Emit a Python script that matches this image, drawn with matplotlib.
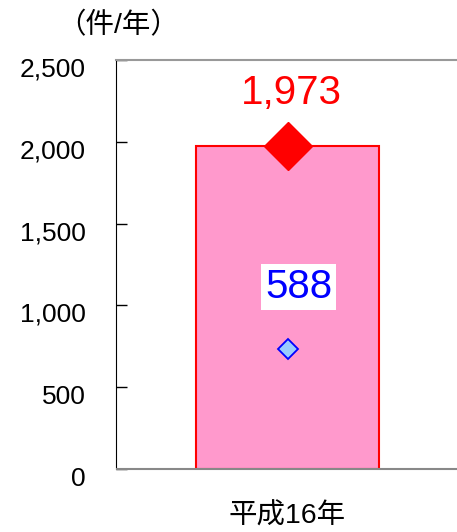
import matplotlib
matplotlib.use("Agg")
from matplotlib import pyplot as plt
from matplotlib.transforms import ScaledTranslation

plt.rcParams['font.family'] = ['Liberation Sans', 'Noto Sans CJK JP']

categories = ["平成16年"]
bar_values = [1973]
bar_label = "1,973"
small_marker_values = [733]
small_label = "588"
y_ticks = [0, 500, 1000, 1500, 2000, 2500]
y_tick_labels = ["0", "500", "1,000", "1,500", "2,000", "2,500"]
unit_label = "（件/年）"

fig = plt.figure(figsize=(4.57, 5.32), dpi=100)
ax = fig.add_axes([116 / 457, 63 / 532, 343 / 457, 409 / 532])

x = list(range(len(categories)))
ax.bar(x, bar_values, width=0.534, color="#FF99CC", edgecolor="#FF0000", linewidth=1.5, zorder=2)
ax.plot(x, bar_values, linestyle="none", marker="D", markersize=24, color="#FF0000", zorder=3)
ax.plot(x, small_marker_values, linestyle="none", marker="D", markersize=10.5,
        markerfacecolor="#99CCFF", markeredgecolor="#0000FF", markeredgewidth=1.3, zorder=3)

ax.annotate(bar_label, (x[0], bar_values[0]), xytext=(4, 53), textcoords="offset pixels",
            ha="center", va="center", fontsize=29, color="#FF0000")
ax.annotate(small_label, (x[0], small_marker_values[0]), xytext=(11, 62), textcoords="offset pixels",
            ha="center", va="center", fontsize=29, color="#0000FF",
            bbox=dict(boxstyle="square,pad=0.1", facecolor="white", edgecolor="none"))

ax.set_xlim(-0.5, 0.5)
ax.set_ylim(0, 2500)
ax.set_xticks(x)
ax.set_xticklabels(categories, fontsize=20.5)
ax.tick_params(axis="x", length=0, pad=25)
ax.set_yticks(y_ticks)
ax.set_yticklabels(y_tick_labels, fontsize=19)
ax.tick_params(axis="y", direction="in", length=8, width=1, color="black", pad=22)
for label in ax.get_yticklabels():
    label.set_transform(label.get_transform() + ScaledTranslation(0, -7 / 100, fig.dpi_scale_trans))

ax.spines["right"].set_visible(False)
ax.spines["left"].set_color("black")
ax.spines["top"].set_color("#999999")
ax.spines["bottom"].set_color("#888888")
ax.spines["top"].set_linewidth(1.5)
ax.spines["bottom"].set_linewidth(1.5)
ax.spines["bottom"].set_capstyle("butt")

fig.text(118 / 457, 1 - 26 / 532, unit_label, ha="center", va="center", fontsize=20.5)

fig.savefig("out.png", dpi=100)
